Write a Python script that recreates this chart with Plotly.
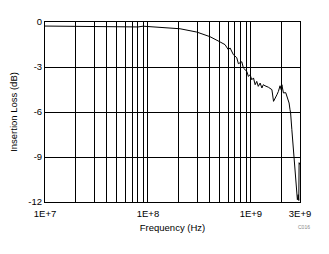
import plotly.graph_objects as go

freq_hz = [1.0e7, 7.16e7, 8.01e7, 8.96e7, 1.05e8, 1.43e8, 2.05e8, 2.98e8, 4.01e8, 5.02e8,
           5.61e8, 6.04e8, 6.28e8, 6.76e8, 7.29e8, 7.56e8, 7.85e8, 8.16e8, 8.46e8, 9.12e8,
           9.46e8, 9.82e8, 1.02e9, 1.06e9, 1.10e9, 1.14e9, 1.18e9, 1.23e9, 1.28e9, 1.32e9,
           1.37e9, 1.48e9, 1.60e9, 1.66e9, 1.79e9, 1.85e9, 1.92e9, 1.97e9, 2.0e9, 2.07e9,
           2.18e9, 2.28e9, 2.35e9, 2.40e9, 2.43e9, 2.50e9, 2.59e9, 2.69e9, 2.79e9, 2.83e9,
           2.88e9, 2.92e9, 2.94e9, 3.0e9]
loss_db = [-0.27, -0.28, -0.33, -0.28, -0.31, -0.40, -0.45, -0.67, -0.98, -1.33,
           -1.51, -1.85, -1.73, -2.18, -2.38, -2.78, -2.73, -2.65, -3.07, -3.29,
           -3.63, -3.51, -3.85, -3.73, -4.18, -3.96, -4.29, -4.07, -4.40, -4.18,
           -4.25, -4.35, -4.51, -5.29, -4.85, -4.63, -4.25, -4.51, -4.18, -4.73,
           -4.71, -5.18, -5.40, -5.85, -6.05, -7.18, -8.51, -9.85, -10.71, -11.85,
           -11.51, -11.9, -9.38, -9.51]

x_labels = {1e7: "1E+7", 1e8: "1E+8", 1e9: "1E+9", 3e9: "3E+9"}
x_grid = [m * 10 ** d for d in (7, 8) for m in range(1, 10)] + [1e9, 2e9, 3e9]
y_ticks = [0, -3, -6, -9, -12]
y_labels = ["0", "-3", "-6", "-9", "-12"]

fig = go.Figure()
fig.add_trace(go.Scatter(x=freq_hz, y=loss_db, mode="lines",
                         line=dict(color="black", width=1), showlegend=False))

font = dict(family="Liberation Sans, Arial, sans-serif", size=9.5, color="black")
fig.update_layout(
    width=329, height=254,
    margin=dict(l=45, r=29, t=22, b=52),
    paper_bgcolor="white", plot_bgcolor="white",
    font=font,
    xaxis=dict(type="log", range=[7, 9.4771], tickvals=x_grid,
               ticktext=[x_labels.get(v, "") for v in x_grid],
               showgrid=True, gridcolor="black", gridwidth=1,
               showline=True, linecolor="black", linewidth=1, mirror=True,
               ticks="", tickfont=font, zeroline=False, ticklabelstandoff=3,
               title=dict(text="Frequency (Hz)", font=font, standoff=5)),
    yaxis=dict(range=[-12, 0], tickvals=y_ticks, ticktext=y_labels,
               showgrid=True, gridcolor="black", gridwidth=1,
               showline=True, linecolor="black", linewidth=1, mirror=True,
               ticks="", tickfont=font, zeroline=False,
               title=dict(text="Insertion Loss (dB)", font=font, standoff=9)),
    annotations=[dict(text="C016", x=(312 - 45) / 255, y=(202 - 232) / 180,
                      xref="paper", yref="paper", showarrow=False,
                      font=dict(family="Liberation Sans", size=5, color="#888888"))],
)
fig.write_html("out.html")
